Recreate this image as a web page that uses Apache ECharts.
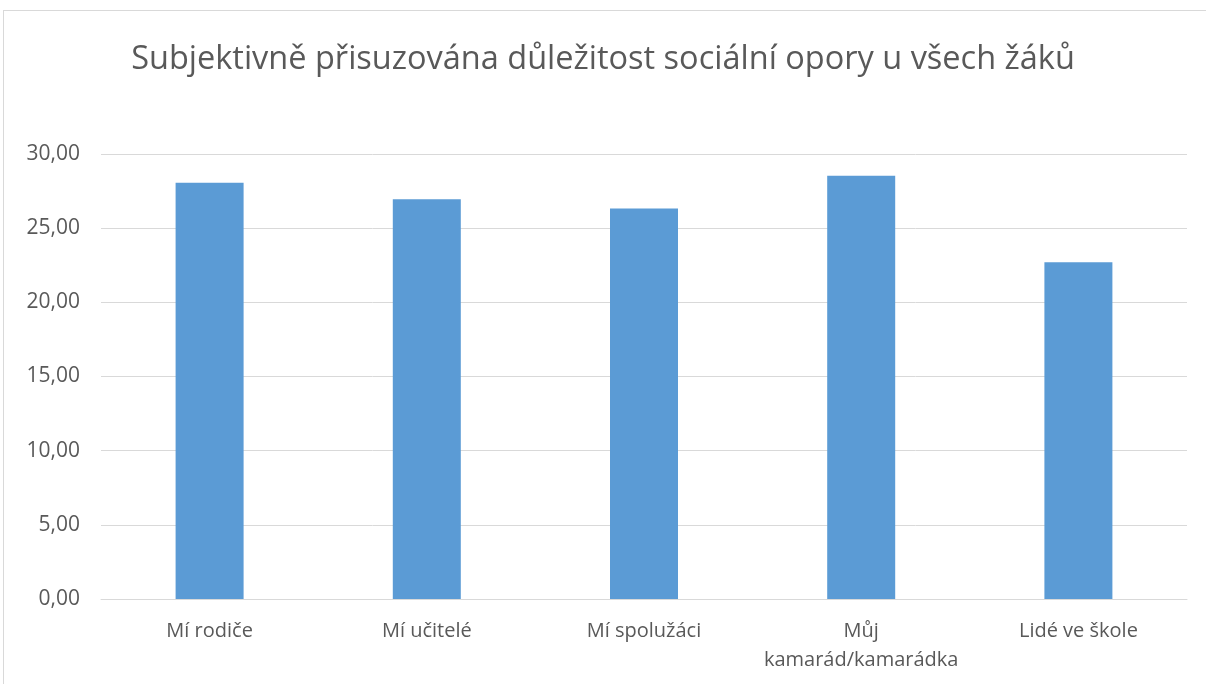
<!DOCTYPE html>
<html>
<head>
<meta charset="utf-8">
<script src="https://cdn.jsdelivr.net/npm/echarts@6/dist/echarts.min.js"></script>
<style>
  html, body { margin: 0; padding: 0; background: #fff; }
  #frame { position: absolute; left: 3px; top: 10px; width: 1210px; height: 690px; border: 1px solid #d9d9d9; box-sizing: border-box; }
  #main { position: absolute; left: 0; top: 0; width: 1206px; height: 684px; }
</style>
</head>
<body>
<div id="frame"></div>
<div id="main"></div>
<script>
// data
var chartTitle = 'Subjektivně přisuzována důležitost sociální opory u všech žáků';
var categories = ['Mí rodiče', 'Mí učitelé', 'Mí spolužáci', 'Můj\nkamarád/kamarádka', 'Lidé ve škole'];
var values = [28.07, 26.95, 26.32, 28.54, 22.70];
var yTicks = [0, 5, 10, 15, 20, 25, 30];

var textColor = '#595959';
var fontName = '"Open Sans", "Noto Sans", sans-serif';

var myChart = echarts.init(document.getElementById('main'));
var option = {
	animation: false,
	title: {
		text: chartTitle,
		left: 'center',
		top: 38,
		textStyle: {
			color: textColor,
			fontFamily: fontName,
			fontWeight: 'normal',
			fontSize: 32.5
		}
	},
	grid: {
		left: 101,
		right: 19,
		top: 154,
		bottom: 85
	},
	xAxis: {
		type: 'category',
		data: categories,
		axisLine: { lineStyle: { color: '#d9d9d9', width: 1 } },
		axisTick: { show: false },
		axisLabel: {
			color: textColor,
			fontFamily: fontName,
			fontSize: 20,
			lineHeight: 29,
			margin: 18,
			interval: 0
		}
	},
	yAxis: {
		type: 'value',
		min: yTicks[0],
		max: yTicks[yTicks.length - 1],
		interval: yTicks[1] - yTicks[0],
		axisLine: { show: false },
		axisTick: { show: false },
		splitLine: { lineStyle: { color: '#d9d9d9', width: 1 } },
		axisLabel: {
			color: textColor,
			fontFamily: fontName,
			fontSize: 21,
			margin: 21,
			formatter: function (v) {
				return v.toFixed(2).replace('.', ',');
			}
		}
	},
	series: [
		{
			type: 'bar',
			data: values,
			barWidth: 68,
			itemStyle: { color: '#5b9bd5' }
		}
	]
};
myChart.setOption(option);
</script>
</body>
</html>
